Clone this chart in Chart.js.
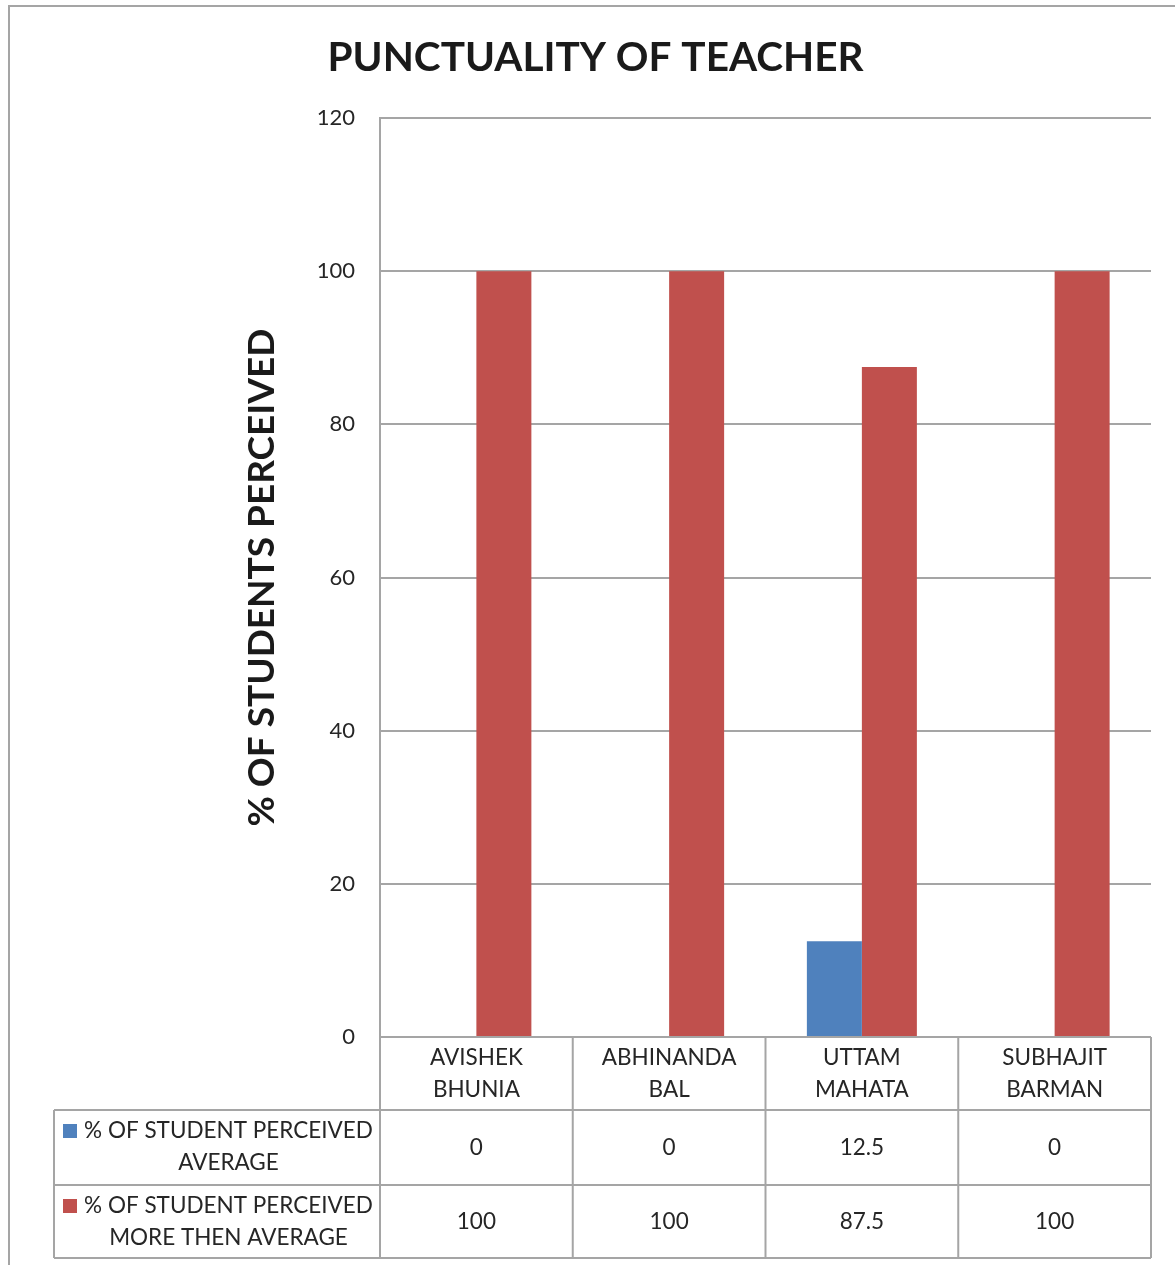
<!DOCTYPE html>
<html>
<head>
<meta charset="utf-8">
<title>Punctuality of Teacher</title>
<script src="https://cdn.jsdelivr.net/npm/chart.js@4.4.1/dist/chart.umd.min.js"></script>
<style>
  html, body { margin: 0; padding: 0; background: #ffffff; }
  #wrap { width: 1175px; height: 1265px; position: relative; }
</style>
</head>
<body>
<div id="wrap"><canvas id="punctualityChart"></canvas></div>
<script>
const teachers = [
  ["AVISHEK", "BHUNIA"],
  ["ABHINANDA", "BAL"],
  ["UTTAM", "MAHATA"],
  ["SUBHAJIT", "BARMAN"]
];
const averageLabel = ["% OF STUDENT PERCEIVED", "AVERAGE"];
const aboveLabel = ["% OF STUDENT PERCEIVED", "MORE THEN AVERAGE"];
const averageValues = [0, 0, 12.5, 0];
const aboveValues = [100, 100, 87.5, 100];
const yTicks = [0, 20, 40, 60, 80, 100, 120];

const FONT = "Lato, 'Open Sans', sans-serif";
const LINE = "#a5a5a5";
const INK = "#262626";

Chart.defaults.font.family = FONT;
Chart.defaults.color = INK;

// frame around the whole chart object (runs off the right and bottom edges)
const framePlugin = {
  id: "frame",
  beforeDraw(chart) {
    const ctx = chart.ctx;
    ctx.save();
    ctx.strokeStyle = LINE;
    ctx.lineWidth = 2;
    ctx.beginPath();
    ctx.moveTo(9, chart.height);
    ctx.lineTo(9, 6);
    ctx.lineTo(chart.width, 6);
    ctx.stroke();
    ctx.restore();
  }
};

// data table under the plot: category header row plus one row per series
const dataTablePlugin = {
  id: "dataTable",
  afterDraw(chart) {
    const ctx = chart.ctx;
    const x = chart.scales.x;
    const area = chart.chartArea;
    const n = chart.data.labels.length;
    const step = (area.right - area.left) / n;
    const rowTop = area.bottom;
    const rowH = [73, 75, 73];
    const keyLeft = 54;
    const rows = [rowTop, rowTop + rowH[0], rowTop + rowH[0] + rowH[1], rowTop + rowH[0] + rowH[1] + rowH[2]];

    ctx.save();
    ctx.strokeStyle = LINE;
    ctx.lineWidth = 2;
    ctx.beginPath();
    // horizontal rules
    ctx.moveTo(area.left, rows[0]); ctx.lineTo(area.right, rows[0]);
    for (let r = 1; r < rows.length; r++) {
      ctx.moveTo(keyLeft, rows[r]); ctx.lineTo(area.right, rows[r]);
    }
    // vertical rules
    for (let i = 0; i <= n; i++) {
      const px = area.left + i * step;
      ctx.moveTo(px, rows[0]); ctx.lineTo(px, rows[3]);
    }
    ctx.moveTo(keyLeft, rows[1]); ctx.lineTo(keyLeft, rows[3]);
    ctx.stroke();

    ctx.fillStyle = INK;
    ctx.font = "22.5px " + FONT;
    ctx.textAlign = "center";
    ctx.textBaseline = "middle";

    // category names
    chart.data.labels.forEach((lines, i) => {
      const cx = x.getPixelForValue(i);
      ctx.fillText(lines[0], cx, rows[0] + 21);
      ctx.fillText(lines[1], cx, rows[0] + 53);
    });

    // series rows
    chart.data.datasets.forEach((ds, r) => {
      const top = rows[r + 1];
      const mid = (top + rows[r + 2]) / 2;
      ctx.fillStyle = ds.backgroundColor;
      ctx.fillRect(keyLeft + 9, top + 14, 14, 14);
      ctx.fillStyle = INK;
      const textCx = (keyLeft + 31 + area.left - 8) / 2;
      ctx.fillText(ds.tableLabel[0], textCx, top + 21);
      ctx.fillText(ds.tableLabel[1], textCx, top + 53);
      ds.data.forEach((v, i) => {
        ctx.fillText(String(v), x.getPixelForValue(i), mid);
      });
    });
    ctx.restore();
  }
};

new Chart(document.getElementById("punctualityChart"), {
  type: "bar",
  data: {
    labels: teachers,
    datasets: [
      {
        label: averageLabel.join(" "),
        tableLabel: averageLabel,
        data: averageValues,
        backgroundColor: "#4f81bd",
        categoryPercentage: 0.5707,
        barPercentage: 1
      },
      {
        label: aboveLabel.join(" "),
        tableLabel: aboveLabel,
        data: aboveValues,
        backgroundColor: "#c0504d",
        categoryPercentage: 0.5707,
        barPercentage: 1
      }
    ]
  },
  options: {
    responsive: true,
    maintainAspectRatio: false,
    animation: false,
    layout: {
      padding: { left: 40, right: 24, top: 0, bottom: 228 }
    },
    plugins: {
      legend: { display: false },
      tooltip: { enabled: false },
      title: {
        display: true,
        text: "PUNCTUALITY OF TEACHER",
        color: "#1a1a1a",
        font: { size: 40.5, weight: "bold", lineHeight: 1.2 },
        padding: { top: 34, bottom: 35.4 }
      }
    },
    scales: {
      x: {
        display: false
      },
      y: {
        min: 0,
        max: 120,
        afterBuildTicks: scale => {
          scale.ticks = yTicks.map(v => ({ value: v }));
        },
        afterFit: scale => {
          scale.width = 340;
        },
        grid: {
          color: LINE,
          lineWidth: 2,
          drawTicks: false
        },
        border: { display: true, color: LINE, width: 2 },
        ticks: {
          padding: 25,
          color: INK,
          font: { size: 22 }
        },
        title: {
          display: true,
          text: "% OF STUDENTS PERCEIVED",
          color: "#1a1a1a",
          font: { size: 37, weight: "bold", lineHeight: 1.2 },
          padding: { top: 200, bottom: 0 }
        }
      }
    }
  },
  plugins: [framePlugin, dataTablePlugin]
});
</script>
</body>
</html>
